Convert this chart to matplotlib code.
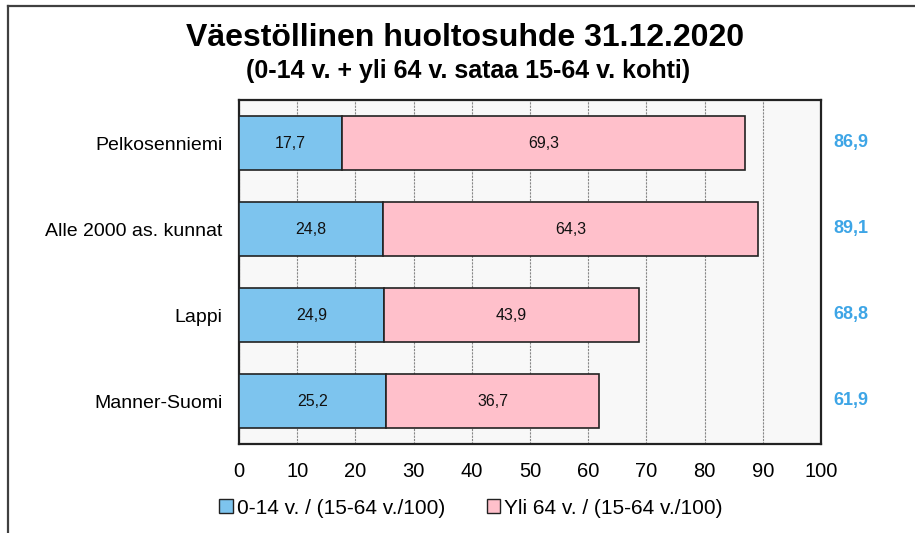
import matplotlib
matplotlib.use("Agg")
import matplotlib.pyplot as plt
from matplotlib.patches import Rectangle
from matplotlib.lines import Line2D

plt.rcParams['font.family'] = ['Liberation Sans', 'DejaVu Sans']

categories = ["Pelkosenniemi", "Alle 2000 as. kunnat", "Lappi", "Manner-Suomi"]
young = [17.7, 24.8, 24.9, 25.2]
old = [69.3, 64.3, 43.9, 36.7]
totals = [86.9, 89.1, 68.8, 61.9]
series_names = ["0-14 v. / (15-64 v./100)", "Yli 64 v. / (15-64 v./100)"]
xticks = [0, 10, 20, 30, 40, 50, 60, 70, 80, 90, 100]

def fmt(v):
    return f"{v:.1f}".replace(".", ",")

W, H = 915, 533
fig = plt.figure(figsize=(W / 100, H / 100), dpi=100)
fig.patch.set_facecolor("white")

# outer border (left and top visible)
fig.add_artist(Line2D([8 / W, 8 / W], [0, 1 - 6 / H], transform=fig.transFigure, color="#404040", lw=1.6))
fig.add_artist(Line2D([8 / W, 1], [1 - 6 / H, 1 - 6 / H], transform=fig.transFigure, color="#404040", lw=1.6))

ax = fig.add_axes([239 / W, 89 / H, 582 / W, 344 / H])
ax.set_facecolor("#F8F8F8")

c_young = "#7DC4EE"
c_old = "#FFC0CB"
ypos = list(range(len(categories)))
h = 0.63
ax.barh(ypos, young, height=h, color=c_young, edgecolor="#222222", linewidth=1.2, zorder=3)
ax.barh(ypos, old, left=young, height=h, color=c_old, edgecolor="#222222", linewidth=1.2, zorder=3)

for i in ypos:
    ax.text(young[i] / 2, i, fmt(young[i]), ha="center", va="center", fontsize=11.5, color="#111111", zorder=4)
    ax.text(young[i] + old[i] / 2, i, fmt(old[i]), ha="center", va="center", fontsize=11.5, color="#111111", zorder=4)
    ax.text(105.2, i, fmt(totals[i]), ha="center", va="center", fontsize=13, fontweight="bold",
            color="#3DA5E6", clip_on=False)

ax.set_xlim(0, 100)
ax.set_ylim(len(categories) - 0.5, -0.5)
ax.set_xticks(xticks)
ax.set_xticklabels([str(t) for t in xticks], fontsize=14.5)
ax.set_yticks(ypos)
ax.set_yticklabels(categories, fontsize=14)
ax.tick_params(axis="x", length=0, pad=13)
ax.tick_params(axis="y", length=0, pad=12)
ax.xaxis.grid(True, color="#888888", linestyle=(0, (2, 1)), linewidth=0.8, zorder=0)
ax.set_axisbelow(True)
for s in ax.spines.values():
    s.set_color("#222222")
    s.set_linewidth(1.6)

fig.text(465 / W, 1 - 38 / H, "Väestöllinen huoltosuhde 31.12.2020", ha="center", va="center",
         fontsize=23, fontweight="bold")
fig.text(468 / W, 1 - 71 / H, "(0-14 v. + yli 64 v. sataa 15-64 v. kohti)", ha="center", va="center",
         fontsize=18, fontweight="bold")

handles = [Rectangle((0, 0), 1, 1, facecolor=c_young, edgecolor="#222222", lw=1),
           Rectangle((0, 0), 1, 1, facecolor=c_old, edgecolor="#222222", lw=1)]
fig.legend(handles, series_names, loc="center", bbox_to_anchor=(471 / W, 1 - 508 / H), ncol=2,
           frameon=False, fontsize=15, handlelength=0.65, handleheight=0.65, handletextpad=0.2,
           columnspacing=2.0)

fig.savefig("out.png", dpi=100)
